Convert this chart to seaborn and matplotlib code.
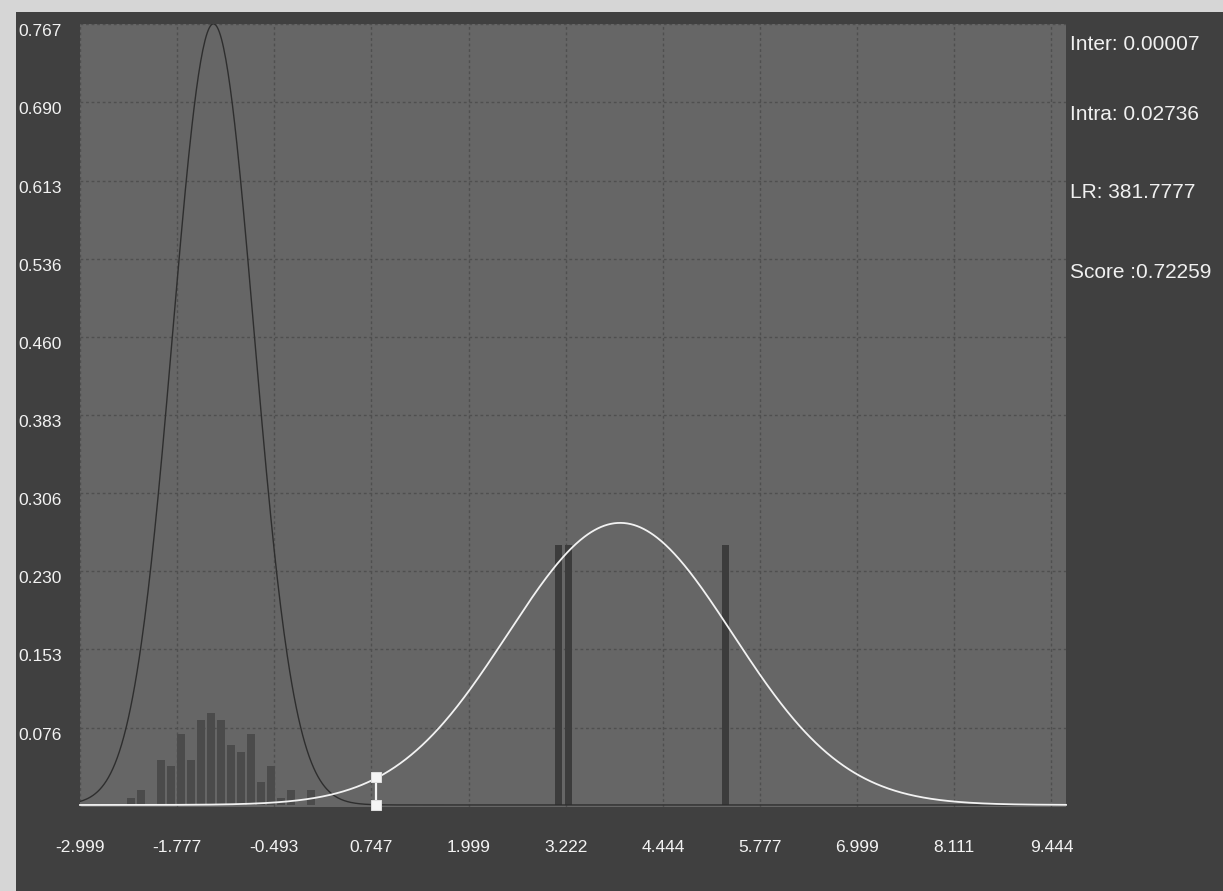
import numpy as np
import pandas as pd
import seaborn as sns
import matplotlib.pyplot as plt
from matplotlib.patches import Rectangle

plt.rcParams['font.family'] = ['Liberation Sans', 'DejaVu Sans']

# left group histogram: bin centres and heights
left_bins = [-2.343, -2.215, -1.959, -1.831, -1.703, -1.575, -1.447, -1.319, -1.191,
             -1.063, -0.935, -0.807, -0.679, -0.551, -0.423, -0.295, -0.039]
left_heights = [0.007, 0.015, 0.044, 0.038, 0.070, 0.044, 0.083, 0.090, 0.083,
                0.059, 0.052, 0.070, 0.023, 0.038, 0.007, 0.015, 0.015]

# right group bars
right_bins = [3.132, 3.254, 5.266]
right_heights = [0.255, 0.255, 0.255]

# fitted normal curves (mean, sd)
dark_mean, dark_sd = -1.29, 0.52
light_mean, light_sd = 3.92, 1.44

# evidence score and the two densities there
evidence_x = 0.79
inter_val = 0.00007
intra_val = 0.02736

x_labels = ['-2.999', '-1.777', '-0.493', '0.747', '1.999', '3.222',
            '4.444', '5.777', '6.999', '8.111', '9.444']
y_labels = ['0.076', '0.153', '0.230', '0.306', '0.383',
            '0.460', '0.536', '0.613', '0.690', '0.767']
stats = ['Inter: 0.00007', 'Intra: 0.02736', 'LR: 381.7777', 'Score :0.72259']

W, H = 1223, 891
fig = plt.figure(figsize=(W / 100, H / 100), dpi=100, facecolor='#d6d6d6')
fig.add_artist(Rectangle((16 / W, 0), 1, 1 - 12 / H, transform=fig.transFigure,
                         facecolor='#404040', edgecolor='none', zorder=0))
ax = fig.add_axes([80 / W, 1 - 807 / H, 986 / W, 783 / H])
ax.set_facecolor('#666666')

x_min, x_max = -2.999, 9.63

# bars
sns.barplot(x=left_bins, y=left_heights, native_scale=True, orient='x', width=0.8,
            color='#4b4b4b', saturation=1, errorbar=None, ax=ax, zorder=2)
sns.barplot(x=right_bins, y=right_heights, native_scale=True, orient='x', width=0.76,
            color='#3c3c3c', saturation=1, errorbar=None, ax=ax, zorder=2)

# density curves
xs = np.linspace(x_min, x_max, 900)
def normal_pdf(x, m, s):
    return np.exp(-0.5 * ((x - m) / s) ** 2) / (s * np.sqrt(2 * np.pi))

curves = pd.DataFrame({'x': xs,
                       'dark': normal_pdf(xs, dark_mean, dark_sd),
                       'light': normal_pdf(xs, light_mean, light_sd)})
sns.lineplot(data=curves, x='x', y='dark', color='#2e2e2e', lw=1,
             estimator=None, sort=False, ax=ax, zorder=3)
sns.lineplot(data=curves, x='x', y='light', color='#f2f2f2', lw=1.3,
             estimator=None, sort=False, ax=ax, zorder=4, clip_on=False)

# evidence marker
sns.lineplot(x=[evidence_x, evidence_x], y=[inter_val, intra_val], color='#f5f5f5',
             lw=1.6, marker='s', markersize=6.5, markeredgecolor='#dddddd',
             estimator=None, sort=False, ax=ax, zorder=5, clip_on=False)

ax.set_xlim(x_min, x_max)
ax.set_ylim(-0.002, 0.767)
ax.set_xlabel('')
ax.set_ylabel('')

ax.set_xticks(np.linspace(-2.999, 9.444, len(x_labels)))
ax.set_xticklabels(x_labels)
ax.set_yticks([float(v) for v in y_labels])
ax.set_yticklabels(y_labels)
ax.tick_params(length=0, colors='#f2f2f2', labelsize=12.5)
ax.tick_params(axis='x', pad=24)
ax.tick_params(axis='y', pad=44.6)
for lbl in ax.get_yticklabels():
    lbl.set_horizontalalignment('left')
    lbl.set_verticalalignment('top')

ax.grid(True, color='#4f4f4f', linestyle=(0, (2, 2)), lw=1)
ax.set_axisbelow(True)
for sp in ax.spines.values():
    sp.set_visible(False)

for txt, ypx in zip(stats, [45, 115, 193, 272]):
    fig.text(1070 / W, 1 - ypx / H, txt, color='#f0f0f0', fontsize=15,
             va='center', ha='left')

fig.savefig('out.png', dpi=100, facecolor=fig.get_facecolor())
